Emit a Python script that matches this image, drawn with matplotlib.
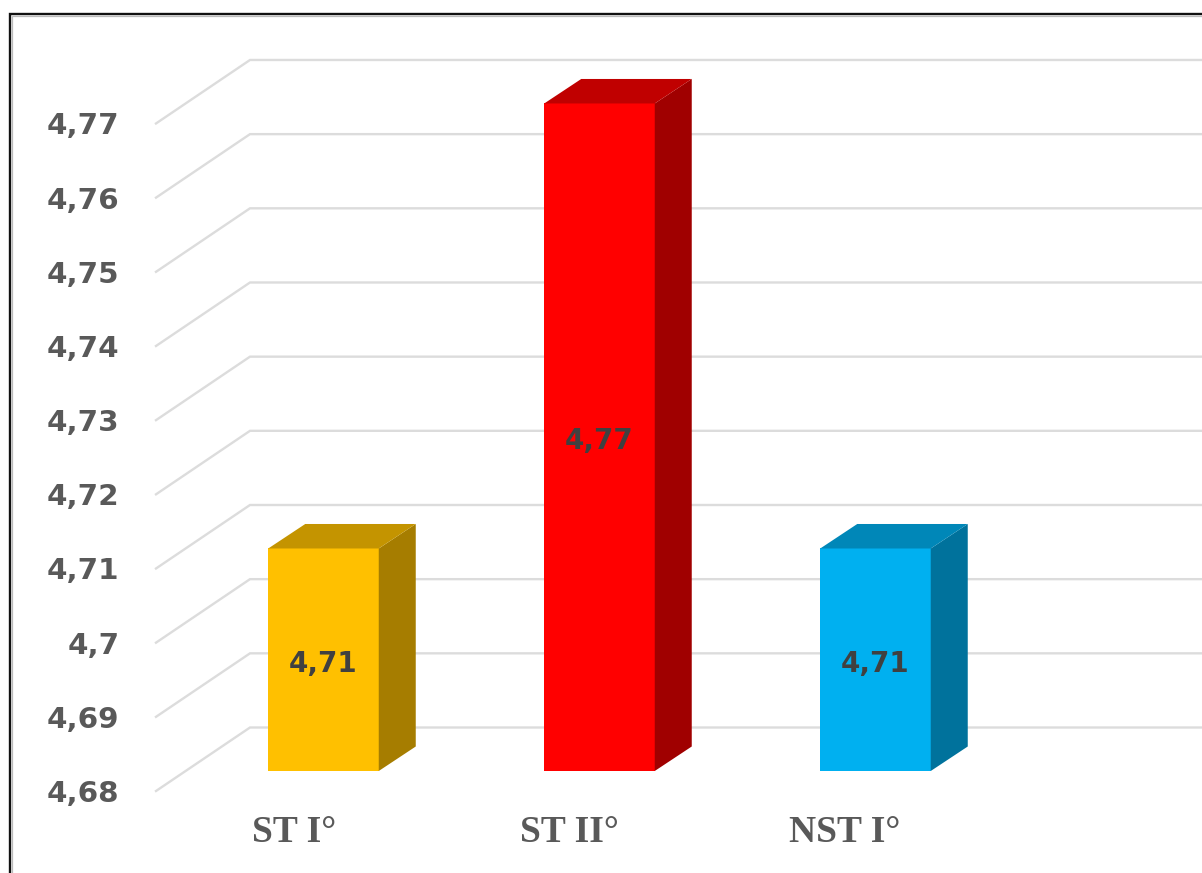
import matplotlib
matplotlib.use("Agg")
import matplotlib.pyplot as plt
from matplotlib.lines import Line2D
from matplotlib.patches import Polygon

# data
categories = ["ST I°", "ST II°", "NST I°"]
values = [4.71, 4.77, 4.71]
value_labels = ["4,71", "4,77", "4,71"]
y_ticks = [4.68, 4.69, 4.70, 4.71, 4.72, 4.73, 4.74, 4.75, 4.76, 4.77]
y_tick_labels = ["4,68", "4,69", "4,7", "4,71", "4,72", "4,73", "4,74", "4,75", "4,76", "4,77"]

# colours: front, side, top
front_colors = ["#FFC000", "#FF0000", "#00B0F0"]
side_colors = ["#A67D00", "#A00000", "#00729C"]
top_colors = ["#C49400", "#C00000", "#0087B8"]

W, H = 1202, 873
PX_PER_CAT = 276.0
PX_PER_VAL = 7417.0
X0_PX = 323.5   # centre of first bar
BASE_PX = 771.0  # y pixel of 4.68 on the bar front
BASE_VAL = 4.68
BAR_W = 110.5 / PX_PER_CAT


def dx(px):
    return px / PX_PER_CAT


def dy(px):
    return px / PX_PER_VAL


fig = plt.figure(figsize=(W / 100, H / 100), dpi=100, facecolor="white")
ax = fig.add_axes([0, 0, 1, 1])
ax.set_xlim(-X0_PX / PX_PER_CAT, (W - X0_PX) / PX_PER_CAT)
ax.set_ylim(BASE_VAL - (H - BASE_PX) / PX_PER_VAL, BASE_VAL + BASE_PX / PX_PER_VAL)
ax.axis("off")

# wall lines: front end, back corner, right edge
x_front = ax.get_xlim()[0] + dx(156)
x_back = ax.get_xlim()[0] + dx(250)
x_right = ax.get_xlim()[1]
for v, lab in zip(y_ticks, y_tick_labels):
    y_f = v - dy(20)
    y_b = v + dy(43.5)
    ax.plot([x_front, x_back, x_right], [y_f, y_b, y_b], color="#DCDCDC",
            lw=1.7, solid_joinstyle="miter", zorder=1)
    ax.text(ax.get_xlim()[0] + dx(119.5), v - dy(23), lab, ha="right", va="center",
            fontsize=21.2, fontweight="bold", color="#595959", family="DejaVu Sans")

# 3d bars
depth_x, depth_y = dx(37), dy(24.5)
for i, v in enumerate(values):
    left = i - BAR_W / 2
    right = i + BAR_W / 2
    ax.bar(i, v - BASE_VAL, bottom=BASE_VAL, width=BAR_W, color=front_colors[i],
           linewidth=0, zorder=3)
    ax.add_patch(Polygon([(right, BASE_VAL), (right + depth_x, BASE_VAL + depth_y),
                          (right + depth_x, v + depth_y), (right, v)],
                         closed=True, fc=side_colors[i], ec="none", zorder=3))
    ax.add_patch(Polygon([(left, v), (left + depth_x, v + depth_y),
                          (right + depth_x, v + depth_y), (right, v)],
                         closed=True, fc=top_colors[i], ec="none", zorder=3))
    ax.text(i, (v + BASE_VAL) / 2 - dy(4), value_labels[i], ha="center", va="center",
            fontsize=20, fontweight="bold", color="#404040", family="DejaVu Sans",
            zorder=4)

# category labels
label_px = [294.5, 569.5, 844.5]
for i, cat in enumerate(categories):
    ax.text(ax.get_xlim()[0] + dx(label_px[i]), BASE_VAL - dy(62), cat, ha="center", va="center",
            fontsize=27, fontweight="bold", color="#595959", family="Liberation Serif")

# outer frame with its faint inner shadow
fig.add_artist(Line2D([12 / W, 12 / W, 1], [0, 1 - 16 / H, 1 - 16 / H], color="#BBBBBB",
                      lw=0.9, solid_joinstyle="miter"))
fig.add_artist(Line2D([10 / W, 10 / W, 1], [0, 1 - 14 / H, 1 - 14 / H], color="#111111",
                      lw=1.7, solid_joinstyle="miter"))

fig.savefig("out.png", dpi=100)
